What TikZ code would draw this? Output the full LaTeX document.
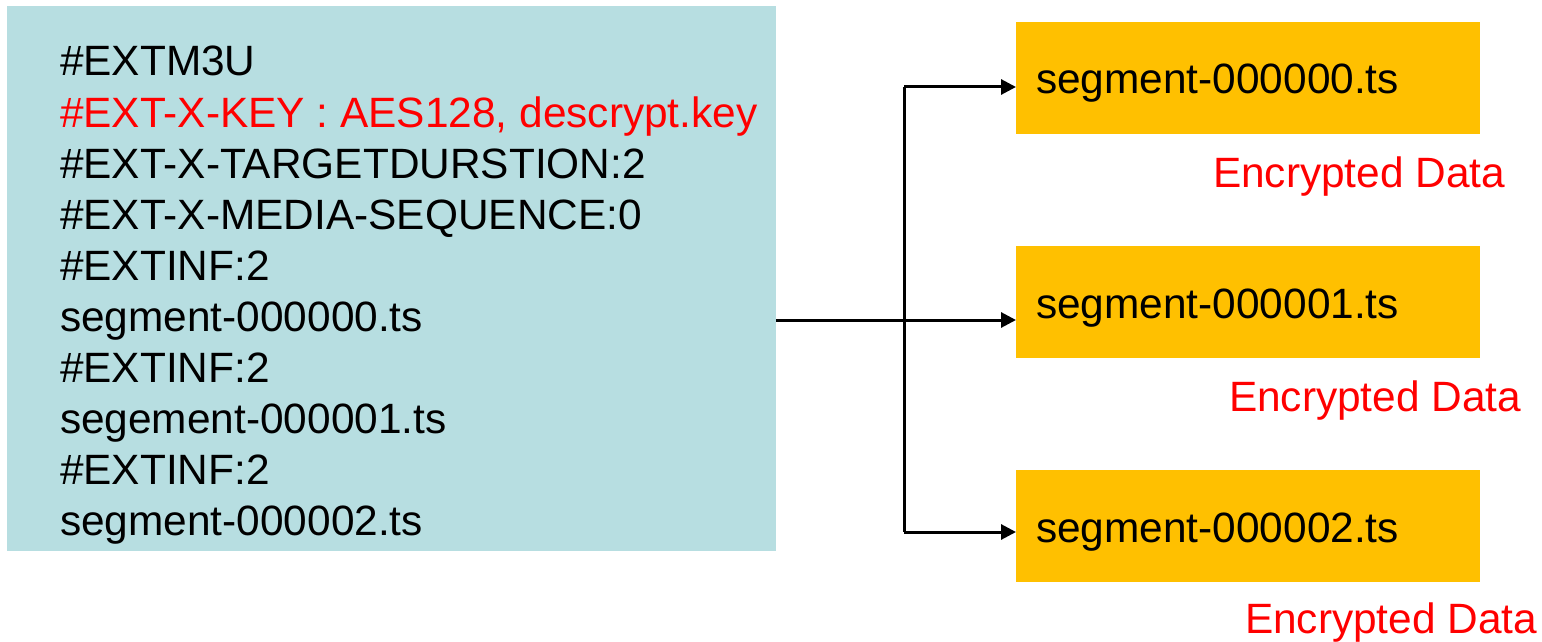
\documentclass[tikz,border=0pt]{standalone}
\usepackage{fontspec}
\setmainfont{Liberation Sans}
\usetikzlibrary{arrows.meta}
\definecolor{boxblue}{HTML}{B7DEE1}
\definecolor{segorange}{HTML}{FFC000}
\definecolor{keyred}{HTML}{FF0000}
\begin{document}
\begin{tikzpicture}[x=0.5pt,y=-0.5pt,
  every node/.style={inner sep=0pt,outer sep=0pt},
  txt/.style={anchor=base west,font=\fontsize{21.2pt}{25pt}\selectfont},
  redtxt/.style={txt,text=keyred},
  segbox/.style={fill=segorange,minimum width=232pt,minimum height=56pt,anchor=north west},
  conn/.style={line width=1.5pt,-{Triangle[length=7.5pt,width=7.5pt]}},
  plain/.style={line width=1.5pt}]
\useasboundingbox (0,0) rectangle (1542,642);
\node[fill=boxblue,minimum width=384.5pt,minimum height=272.5pt,anchor=north west] (m3u) at (7,6) {};
\node[txt] (l1) at (60,76) {\#EXTM3U};
\node[redtxt] (l2) at (60,127) {\#EXT-X-KEY : AES128, descrypt.key};
\node[txt] (l3) at (60,178) {\#EXT-X-TARGETDURSTION:2};
\node[txt] (l4) at (60,229) {\#EXT-X-MEDIA-SEQUENCE:0};
\node[txt] (l5) at (60,280) {\#EXTINF:2};
\node[txt] (l6) at (60,331) {segment-000000.ts};
\node[txt] (l7) at (60,382) {\#EXTINF:2};
\node[txt] (l8) at (60,433) {segement-000001.ts};
\node[txt] (l9) at (60,484) {\#EXTINF:2};
\node[txt] (l10) at (60,535) {segment-000002.ts};
\node[segbox] (s0) at (1016,22) {};
\node[segbox] (s1) at (1016,246) {};
\node[segbox] (s2) at (1016,470) {};
\node[txt] (t0) at (1036,94) {segment-000000.ts};
\node[txt] (t1) at (1036,318) {segment-000001.ts};
\node[txt] (t2) at (1036,542) {segment-000002.ts};
\node[redtxt] (e0) at (1213,187) {Encrypted Data};
\node[redtxt] (e1) at (1229,411) {Encrypted Data};
\node[redtxt] (e2) at (1245,633) {Encrypted Data};
\coordinate (jt) at (904,87);
\coordinate (jb) at (904,532);
\draw[plain] (jt) -- (jb);
\draw[conn] (m3u.east |- 0,320) -- (s1.west |- 0,320);
\draw[conn] (jt) -- (s0.west |- jt);
\draw[conn] (jb) -- (s2.west |- jb);
\end{tikzpicture}
\end{document}
